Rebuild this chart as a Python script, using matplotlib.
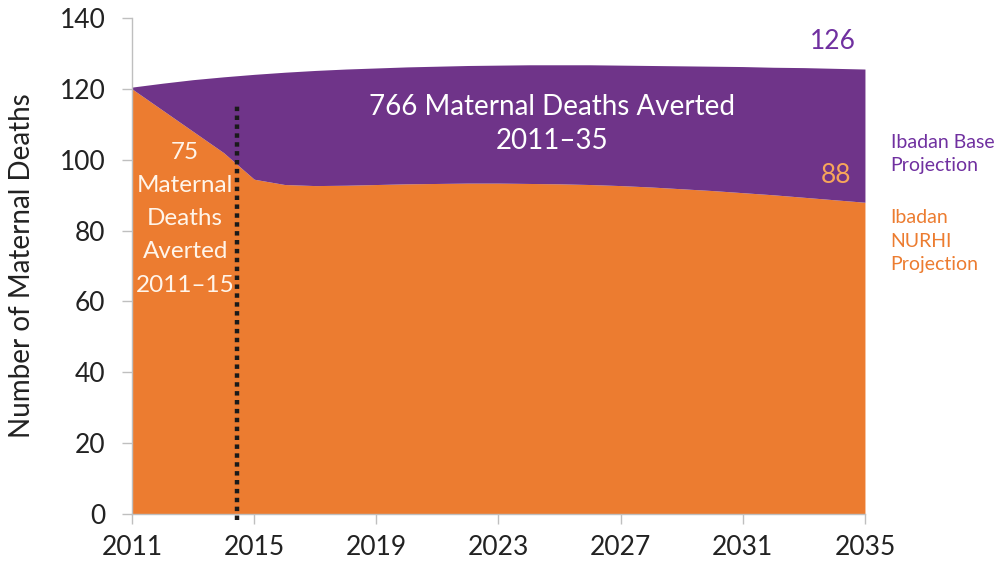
"""
Maternal deaths averted in Ibadan: base vs. NURHI projection, 2011-2035.
Area chart, purple = base projection, orange = NURHI projection.
"""

import matplotlib
matplotlib.use("Agg")
import matplotlib.pyplot as plt

plt.rcParams["font.family"] = ["Lato", "DejaVu Sans"]

# ──────────────────────────────────────────────
# Data
# ──────────────────────────────────────────────
years = list(range(2011, 2036))
base_projection = [120.5, 121.6, 122.6, 123.4, 124.1, 124.7, 125.2, 125.6, 125.9,
                   126.2, 126.4, 126.6, 126.7, 126.8, 126.8, 126.8, 126.7, 126.6,
                   126.5, 126.4, 126.3, 126.1, 126.0, 125.8, 125.6]
nurhi_projection = [120.0, 114.0, 108.0, 102.0, 94.5, 93.0, 92.7, 92.8, 93.0,
                    93.2, 93.3, 93.4, 93.4, 93.3, 93.2, 93.0, 92.7, 92.3,
                    91.8, 91.3, 90.7, 90.1, 89.4, 88.7, 88.0]
x_ticks = [2011, 2015, 2019, 2023, 2027, 2031, 2035]
y_ticks = [0, 20, 40, 60, 80, 100, 120, 140]
marker_year = 2014.45
marker_top = 115.7

PURPLE = "#6F3489"
PURPLE_TEXT = "#7030A0"
ORANGE = "#EC7C30"
ORANGE_LIGHT = "#F7A65A"
GREY = "#BFBFBF"

# ──────────────────────────────────────────────
# Plot
# ──────────────────────────────────────────────
fig = plt.figure(figsize=(10.06, 5.63), dpi=100)
ax = fig.add_axes([0.1312, 0.087, 0.7286, 0.881])

ax.fill_between(years, 0, nurhi_projection, color=ORANGE, linewidth=0)
ax.fill_between(years, nurhi_projection, base_projection, color=PURPLE, linewidth=0)

# dotted marker line at end of 2014
ax.plot([marker_year, marker_year], [-1.8, marker_top], color="#1a1a1a",
        linewidth=3.2, linestyle=(0, (1, 1)), dash_capstyle="butt",
        clip_on=False, zorder=5)

ax.set_xlim(2011, 2035)
ax.set_ylim(0, 140)
ax.set_xticks(x_ticks)
ax.set_yticks(y_ticks)
ax.tick_params(axis="both", which="major", labelsize=19, color=GREY,
               length=7, width=1, direction="out", labelcolor="#222222")
ax.tick_params(axis="x", pad=8)
ax.tick_params(axis="y", pad=12)
ax.set_ylabel("Number of Maternal Deaths", fontsize=20, color="#222222", labelpad=18)

for side in ["top", "right"]:
    ax.spines[side].set_visible(False)
for side in ["left", "bottom"]:
    ax.spines[side].set_color(GREY)
    ax.spines[side].set_linewidth(1)

# annotations
ax.text(2024.75, 110.1, "766 Maternal Deaths Averted\n2011–35", color="white",
        fontsize=20, ha="center", va="center", linespacing=1.42)
ax.text(2012.74, 83.4, "75\nMaternal\nDeaths\nAverted\n2011–15", color="#FFF5EA",
        fontsize=17.5, ha="center", va="center", linespacing=1.72)
ax.text(2033.95, 133.5, "126", color=PURPLE_TEXT, fontsize=19, ha="center", va="center")
ax.text(2034.05, 95.5, "88", color=ORANGE_LIGHT, fontsize=19, ha="center", va="center")
ax.text(2035.84, 101.6, "Ibadan Base\nProjection", color=PURPLE_TEXT, fontsize=14,
        ha="left", va="center", linespacing=1.47, clip_on=False)
ax.text(2035.84, 77.0, "Ibadan\nNURHI\nProjection", color=ORANGE, fontsize=14,
        ha="left", va="center", linespacing=1.47, clip_on=False)

fig.savefig("out.png", dpi=100)
